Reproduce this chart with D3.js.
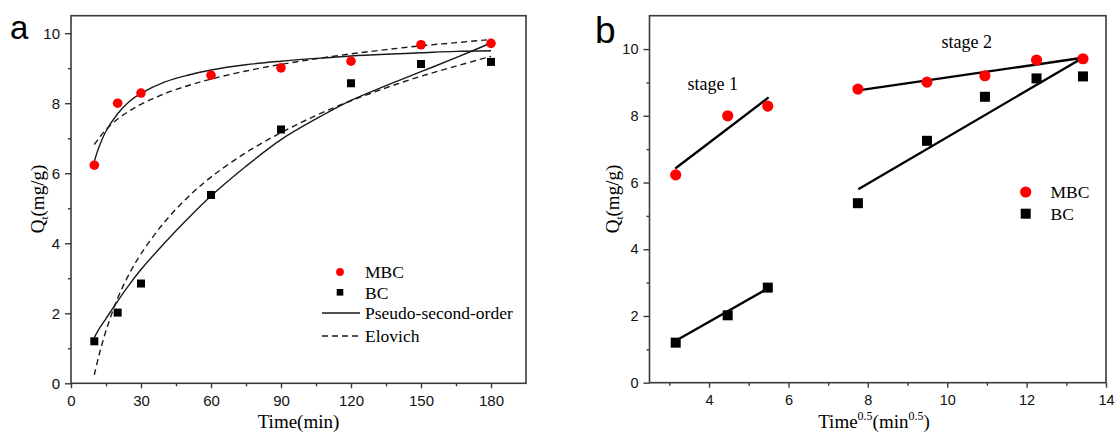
<!DOCTYPE html>
<html>
<head>
<meta charset="utf-8">
<script src="https://cdn.jsdelivr.net/npm/d3@7"></script>
<style>
  html, body { margin: 0; padding: 0; background: #fff; }
  svg { display: block; }
  .tick text { font-family: "Liberation Sans", Arial, sans-serif; fill: #111; }
  .serif { font-family: "Liberation Serif", "Times New Roman", serif; fill: #000; }
</style>
</head>
<body>
<svg id="chart" width="1116" height="432"></svg>
<script>
// ---------- data ----------
const times = [10, 20, 30, 60, 90, 120, 150, 180];
const sqrtTimes = [3.16, 4.47, 5.48, 7.75, 9.49, 10.95, 12.25, 13.42];
const mbcQ = [6.23, 8.0, 8.29, 8.8, 9.01, 9.2, 9.67, 9.71];
const bcQ = [1.2, 2.02, 2.85, 5.38, 7.25, 8.57, 9.12, 9.18];

// fitted curves (panel a)
const fitT = [10, 12, 15, 20, 25, 30, 40, 50, 60, 75, 90, 105, 120, 135, 150, 165, 180];
const mbcPSO = [6.34, 6.75, 7.2, 7.7, 8.05, 8.28, 8.6, 8.8, 8.95, 9.1, 9.2, 9.28, 9.35, 9.4, 9.44, 9.48, 9.5];
const mbcElovich = [6.82, 7.0, 7.25, 7.55, 7.78, 7.97, 8.27, 8.5, 8.69, 8.92, 9.11, 9.27, 9.41, 9.53, 9.64, 9.73, 9.82];
const bcPSO = [1.31, 1.55, 1.85, 2.35, 2.82, 3.25, 4.0, 4.7, 5.35, 6.2, 6.96, 7.55, 8.08, 8.5, 8.9, 9.3, 9.72];
const bcElovich = [0.24, 0.8, 1.5, 2.43, 3.13, 3.7, 4.6, 5.31, 5.89, 6.59, 7.16, 7.65, 8.07, 8.44, 8.77, 9.06, 9.34];

// intraparticle diffusion lines (panel b), endpoints
const stage1X = [3.15, 5.5];
const mbcStage1Y = [6.42, 8.55];
const bcStage1Y = [1.25, 2.84];
const stage2X = [7.76, 13.42];
const mbcStage2Y = [8.76, 9.74];
const bcStage2Y = [5.80, 9.74];

// ticks
const xTicksA = [0, 30, 60, 90, 120, 150, 180];
const xMinorA = [15, 45, 75, 105, 135, 165];
const yTicks = [0, 2, 4, 6, 8, 10];
const yMinor = [1, 3, 5, 7, 9];
const xTicksB = [4, 6, 8, 10, 12, 14];
const xMinorB = [3, 5, 7, 9, 11, 13];

const svg = d3.select("#chart");
svg.append("rect").attr("width", 1116).attr("height", 432).attr("fill", "#fff");

const RED = "#ff0000";
const FRAME = "#3a3a3a";

function zip(xs, ys) { return xs.map((x, i) => [x, ys[i]]); }

function drawFrame(g, x, y, xTicks, xMinor, fs) {
  const [x0, x1] = x.range();
  const [y0, y1] = y.range();
  g.append("g").attr("transform", `translate(0,${y0})`)
    .call(d3.axisBottom(x).tickValues(xMinor).tickSize(3).tickFormat(""))
    .call(s => s.select(".domain").remove())
    .selectAll("line").attr("stroke", FRAME).attr("stroke-width", 1.4);
  g.append("g").attr("transform", `translate(${x0},0)`)
    .call(d3.axisLeft(y).tickValues(yMinor).tickSize(3).tickFormat(""))
    .call(s => s.select(".domain").remove())
    .selectAll("line").attr("stroke", FRAME).attr("stroke-width", 1.4);
  const xa = g.append("g").attr("transform", `translate(0,${y0})`)
    .call(d3.axisBottom(x).tickValues(xTicks).tickSize(5).tickPadding(7).tickFormat(d3.format("d")));
  xa.select(".domain").remove();
  xa.selectAll("line").attr("stroke", FRAME).attr("stroke-width", 1.4);
  xa.selectAll("text").style("font-size", fs + "px");
  const ya = g.append("g").attr("transform", `translate(${x0},0)`)
    .call(d3.axisLeft(y).tickValues(yTicks).tickSize(6).tickPadding(5).tickFormat(d3.format("d")));
  ya.select(".domain").remove();
  ya.selectAll("line").attr("stroke", FRAME).attr("stroke-width", 1.4);
  ya.selectAll("text").style("font-size", fs + "px");
  g.append("rect").attr("x", x0).attr("y", y1).attr("width", x1 - x0).attr("height", y0 - y1)
    .attr("fill", "none").attr("stroke", FRAME).attr("stroke-width", 1.6);
}

function yLabel(g, cx, cy) {
  const t = g.append("text").attr("class", "serif")
    .attr("transform", `translate(${cx},${cy}) rotate(-90)`)
    .attr("text-anchor", "middle").style("font-size", "19px");
  t.append("tspan").text("Q");
  t.append("tspan").text("t").style("font-size", "11px").attr("dy", "4");
  t.append("tspan").text("(mg/g)").attr("dy", "-4");
}

// ---------- panel a ----------
const gA = svg.append("g");
const xA = d3.scaleLinear().domain([0, 195]).range([71, 526]);
const yA = d3.scaleLinear().domain([0, 10.5]).range([383.3, 15.7]);
drawFrame(gA, xA, yA, xTicksA, xMinorA, 15);

const lineA = d3.line().x(d => xA(d[0])).y(d => yA(d[1])).curve(d3.curveCatmullRom);
[[mbcPSO, null], [bcPSO, null], [mbcElovich, "6,4"], [bcElovich, "6,4"]].forEach(([ys, dash]) => {
  gA.append("path").datum(zip(fitT, ys)).attr("d", lineA)
    .attr("fill", "none").attr("stroke", "#1a1a1a").attr("stroke-width", 1.4)
    .attr("stroke-dasharray", dash);
});

gA.selectAll("circle.mbc").data(zip(times, mbcQ)).join("circle")
  .attr("cx", d => xA(d[0])).attr("cy", d => yA(d[1])).attr("r", 4.8).attr("fill", RED);
gA.selectAll("rect.bc").data(zip(times, bcQ)).join("rect")
  .attr("x", d => xA(d[0]) - 4).attr("y", d => yA(d[1]) - 4)
  .attr("width", 8).attr("height", 8).attr("fill", "#000");

// legend a
gA.append("circle").attr("cx", 340).attr("cy", 272).attr("r", 3.9).attr("fill", RED);
gA.append("rect").attr("x", 336.7).attr("y", 289).attr("width", 6.6).attr("height", 6.6).attr("fill", "#000");
gA.append("line").attr("x1", 322).attr("x2", 360).attr("y1", 313).attr("y2", 313)
  .attr("stroke", "#1a1a1a").attr("stroke-width", 1.4);
gA.append("line").attr("x1", 322).attr("x2", 362).attr("y1", 336).attr("y2", 336)
  .attr("stroke", "#1a1a1a").attr("stroke-width", 1.4).attr("stroke-dasharray", "6,4");
[["MBC", 272], ["BC", 293], ["Pseudo-second-order", 313], ["Elovich", 336]].forEach(([t, y]) => {
  gA.append("text").attr("class", "serif").attr("x", 365).attr("y", y + 6)
    .style("font-size", "17.5px").text(t);
});

gA.append("text").attr("class", "serif").attr("x", 298.5).attr("y", 428)
  .attr("text-anchor", "middle").style("font-size", "19px").text("Time(min)");
yLabel(gA, 44, 199);
gA.append("text").attr("x", 10).attr("y", 39)
  .style("font-family", "Liberation Sans, Arial, sans-serif").style("font-size", "33px").text("a");

// ---------- panel b ----------
const gB = svg.append("g");
const xB = d3.scaleLinear().domain([2.5, 14]).range([649.5, 1106]);
const yB = d3.scaleLinear().domain([0, 11]).range([382.7, 15.7]);
drawFrame(gB, xB, yB, xTicksB, xMinorB, 14.5);

const lineB = d3.line().x(d => xB(d[0])).y(d => yB(d[1]));
[[stage1X, mbcStage1Y], [stage1X, bcStage1Y], [stage2X, mbcStage2Y], [stage2X, bcStage2Y]].forEach(([xs, ys]) => {
  gB.append("path").datum(zip(xs, ys)).attr("d", lineB)
    .attr("fill", "none").attr("stroke", "#000").attr("stroke-width", 2.3);
});

gB.selectAll("circle.mbc").data(zip(sqrtTimes, mbcQ)).join("circle")
  .attr("cx", d => xB(d[0])).attr("cy", d => yB(d[1])).attr("r", 5.6).attr("fill", RED);
gB.selectAll("rect.bc").data(zip(sqrtTimes, bcQ)).join("rect")
  .attr("x", d => xB(d[0]) - 5).attr("y", d => yB(d[1]) - 5)
  .attr("width", 10).attr("height", 10).attr("fill", "#000");

// legend b
gB.append("circle").attr("cx", 1025.7).attr("cy", 192).attr("r", 5.6).attr("fill", RED);
gB.append("rect").attr("x", 1020.7).attr("y", 208.7).attr("width", 10).attr("height", 10).attr("fill", "#000");
[["MBC", 192], ["BC", 213.7]].forEach(([t, y]) => {
  gB.append("text").attr("class", "serif").attr("x", 1050.5).attr("y", y + 6)
    .style("font-size", "17.5px").text(t);
});

gB.append("text").attr("class", "serif").attr("x", 687.5).attr("y", 90)
  .style("font-size", "18px").text("stage 1");
gB.append("text").attr("class", "serif").attr("x", 941.5).attr("y", 48)
  .style("font-size", "18px").text("stage 2");

const xl = gB.append("text").attr("class", "serif").attr("x", 874).attr("y", 428)
  .attr("text-anchor", "middle").style("font-size", "19px");
xl.append("tspan").text("Time");
xl.append("tspan").text("0.5").style("font-size", "12px").attr("dy", "-8");
xl.append("tspan").text("(min").attr("dy", "8");
xl.append("tspan").text("0.5").style("font-size", "12px").attr("dy", "-8");
xl.append("tspan").text(")").attr("dy", "8");
yLabel(gB, 619, 199);
gB.append("text").attr("x", 595).attr("y", 43)
  .style("font-family", "Liberation Sans, Arial, sans-serif").style("font-size", "37px").text("b");
</script>
</body>
</html>
